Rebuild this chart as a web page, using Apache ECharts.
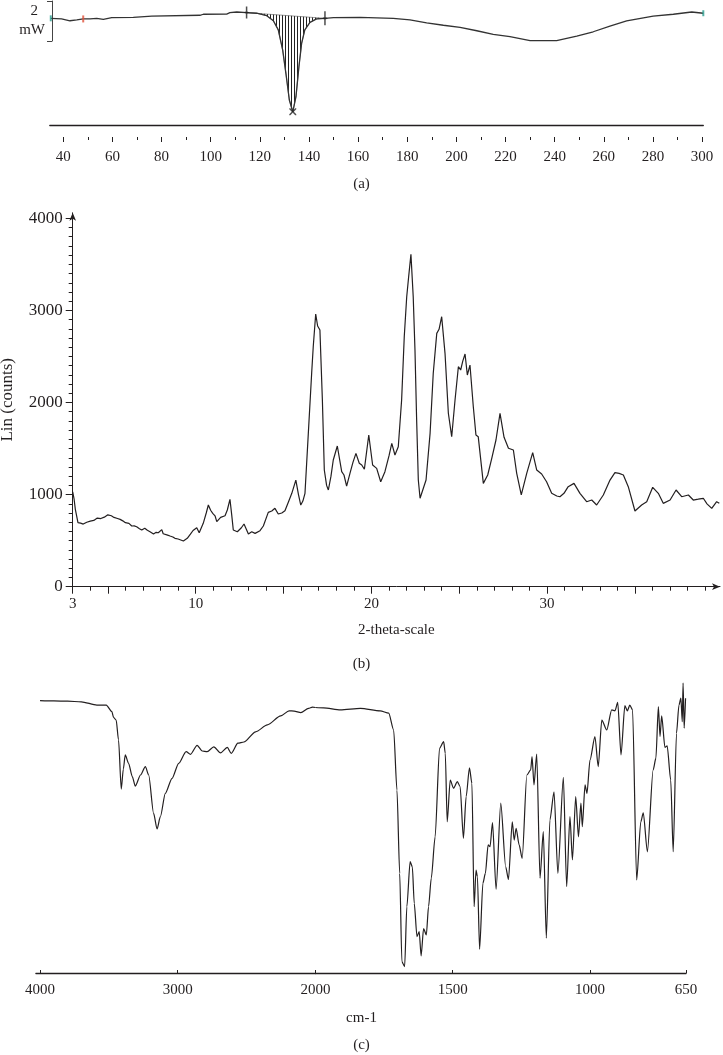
<!DOCTYPE html>
<html><head><meta charset="utf-8">
<script src="https://cdn.jsdelivr.net/npm/echarts@6/dist/echarts.min.js"></script>
<style>html,body{margin:0;padding:0;background:#fff;}#c{width:723px;height:1055px;}</style>
</head><body><div id="c"></div>
<script>
// ---------- (a) DSC ----------
const dscTemp = [34.9,39.3,42.7,45.5,48.1,50.9,53.6,56.3,59.7,68.5,76,95.6,97,106.5,107.8,110.6,114.6,118.7,122.8,125.5,127.5,129.3,130.6,132,133.4,134.7,135.9,137,138.3,140.4,143.1,146.5,150,160.8,174.3,181.1,187.9,194.7,201.5,208.3,215,221.8,230,240.8,249,255.7,262.5,269.3,280.1,288.3,295.8,300.5];
const dscHeat = [-0.06,-0.09,-0.18,-0.14,-0.09,-0.09,-0.06,-0.11,-0.03,-0.01,0.05,0.09,0.14,0.15,0.22,0.25,0.22,0.19,0.07,-0.18,-0.63,-1.62,-2.76,-4.07,-4.65,-3.91,-2.44,-1.29,-0.63,-0.26,-0.09,-0.06,-0.03,-0.01,-0.06,-0.14,-0.28,-0.40,-0.50,-0.67,-0.85,-0.96,-1.16,-1.16,-0.93,-0.72,-0.44,-0.19,0.05,0.14,0.25,0.19];
const dscTickMajor = [40,60,80,100,120,140,160,180,200,220,240,260,280,300];
const dscTickMinor = [50,70,90,110,130,150,170,190,210,230,250,270,290];
const dscIntegStart = 114.6, dscIntegEnd = 146.5, dscPeakT = 133.4;
const dscStartMarkT = 34.9, dscRedMarkT = 48.1, dscEndMarkT = 300.5;
const scaleBar = [0, 2]; // 2 mW

// ---------- (b) XRD ----------
const xrdTheta = [3.0,3.08,3.15,3.3,3.45,3.6,3.8,4.0,4.2,4.4,4.6,4.8,5.0,5.2,5.35,5.55,5.7,5.85,6.0,6.2,6.36,6.5,6.64,6.8,6.93,7.1,7.25,7.4,7.6,7.75,7.87,8.07,8.15,8.25,8.4,8.54,8.7,8.82,9.0,9.11,9.3,9.52,9.7,9.85,10.06,10.2,10.43,10.6,10.72,10.85,10.97,11.1,11.2,11.42,11.67,11.8,11.95,12.05,12.14,12.37,12.6,12.75,13.0,13.19,13.38,13.66,13.85,14.13,14.33,14.51,14.7,14.9,15.08,15.3,15.47,15.7,15.85,15.98,16.1,16.22,16.41,16.6,16.69,16.83,16.94,17.07,17.21,17.32,17.45,17.55,17.7,17.83,18.06,18.31,18.44,18.59,18.78,18.95,19.12,19.31,19.45,19.6,19.85,20.07,20.3,20.53,20.77,21.0,21.16,21.34,21.53,21.72,21.87,22.01,22.12,22.25,22.38,22.48,22.57,22.67,22.77,22.86,23.11,23.34,23.52,23.72,23.85,24.0,24.19,24.38,24.57,24.76,24.95,25.08,25.2,25.33,25.46,25.61,25.8,25.95,26.08,26.37,26.62,26.85,27.09,27.32,27.55,27.8,28.08,28.27,28.53,28.84,29.18,29.41,29.69,29.97,30.26,30.55,30.73,30.96,31.2,31.53,31.87,32.25,32.54,32.82,33.2,33.58,33.86,34.1,34.34,34.62,35.0,35.38,35.67,36.01,36.33,36.61,37.0,37.34,37.66,38.04,38.32,38.6,38.89,39.1,39.37,39.65,39.8];
const xrdCounts = [1030,950,840,695,690,680,700,712,720,745,740,755,780,770,752,740,731,715,695,688,659,660,651,630,615,634,612,597,572,590,586,620,575,561,560,550,540,525,518,514,496,525,570,610,641,586,688,800,887,830,797,770,706,753,771,833,949,780,615,597,640,681,572,597,579,608,659,807,822,851,789,800,825,930,1014,1158,1000,887,930,1014,1665,2317,2606,2961,2831,2787,2027,1267,1100,1050,1200,1376,1528,1249,1213,1093,1231,1350,1448,1340,1321,1275,1647,1321,1285,1140,1249,1420,1557,1430,1520,2027,2714,3149,3366,3609,3149,2570,1846,1158,960,941,1158,1665,2317,2751,2795,2932,2534,1883,1629,2027,2389,2353,2450,2527,2299,2407,1954,1647,1629,1122,1213,1394,1593,1883,1622,1503,1484,1231,996,1231,1455,1267,1224,1140,1014,985,977,1014,1086,1122,1014,923,941,887,996,1158,1238,1230,1213,1086,822,887,923,1079,1014,905,941,1050,977,996,941,950,960,900,851,923,905];
const xrdXLabels = [3,10,20,30];
const xrdXMajor = [3,5,10,15,20,25,30,35];
const xrdXMinor = [4,6,7,8,9,11,12,13,14,16,17,18,19,21,22,23,24,26,27,28,29,31,32,33,34,36,37,38,39];
const xrdYLabels = [0,1000,2000,3000,4000];
const xrdYMinor = [100,200,300,400,500,600,700,800,900,1100,1200,1300,1400,1500,1600,1700,1800,1900,2100,2200,2300,2400,2500,2600,2700,2800,2900,3100,3200,3300,3400,3500,3600,3700,3800,3900];

// ---------- (c) IR ----------
const irWave = [4000,3900,3800,3700,3587,3519,3478,3466,3447,3430,3410,3395,3381,3357,3330,3308,3270,3235,3211,3175,3150,3126,3090,3041,2993,2939,2907,2859,2822,2786,2738,2689,2640,2611,2563,2519,2434,2349,2252,2191,2155,2106,2050,2021,2000,1970,1909,1836,1764,1733,1715,1703,1693,1685,1675,1667,1655,1647,1640,1630,1622,1615,1606,1596,1588,1578,1564,1548,1533,1527,1520,1509,1497,1483,1473,1461,1451,1439,1430,1422,1415,1410,1402,1390,1381,1371,1364,1355,1342,1325,1307,1297,1283,1276,1269,1258,1247,1230,1216,1211,1204,1194,1182,1170,1159,1146,1131,1117,1097,1085,1073,1064,1052,1042,1033,1028,1018,1011,1000,982,970,957,939,921,909,899,887,873,864,855,845,830,815,806,791,770,760,751,745,739,727,719,706,697,685,676,669,664,661,657,652];
const irTrans = [90.8,90.7,90.6,90.4,89.3,89.3,87.1,85.2,84.3,77.7,61.3,68,72.7,69.9,65.5,62.3,66,68.8,66,53.2,48,52.1,59.9,64.9,69.9,73.8,72.9,75.9,74,73.8,75.4,73.4,75.2,73.2,76.6,77,80.4,82.7,85.7,87.4,87.3,86.8,88.2,88.6,88.5,88.4,87.7,88.2,87.4,86.6,81,61,33.2,3.8,2.1,22.1,37.1,35.4,23.2,12.1,13.8,5.7,14.8,12.7,22.1,31.6,45.4,74.9,77.1,73.2,50.4,64.3,61.6,63.8,62.1,44.9,58.8,68.4,63.2,22.1,34.3,32.1,7.9,29.9,33.2,42.7,42.1,50.1,27.9,56.6,35.4,31.2,50.4,44.3,48.2,42.7,38.2,66,67.7,72.1,62.7,73,31.6,47.1,11.6,51,60.4,33.2,65.2,28.8,52.1,37.7,58.8,45.4,56.6,48.8,62.7,59.9,71,78.8,68.8,84.3,81,87.7,87.4,90.2,72.7,89.1,87.4,89.3,87.7,31,50.4,53.4,40.4,67.7,71.6,88.8,78.8,85.7,75.2,75.7,64.3,40.4,79.9,89.3,91.6,83.8,96.6,81.6,91.6];
const irLabelsHigh = [4000,3000,2000];
const irLabelsLow = [1500,1000,650];

// ---------- build ----------
const INK = '#231f20';
const FONT = "'Liberation Serif', 'DejaVu Serif', serif";
const zip = (a,b) => a.map((v,i)=>[v,b[i]]);
const dscData = zip(dscTemp, dscHeat);
const hatchPts = dscData.filter(p => p[0] >= dscIntegStart && p[0] <= dscIntegEnd);
const heatAt = t => dscHeat[dscTemp.indexOf(t)];
const irData = zip(irWave, irTrans);
const irHigh = irData.filter(p => p[0] >= 2000);
const irLow = irData.filter(p => p[0] <= 2000);

const pc = document.createElement('canvas');
pc.width = 3; pc.height = 3;
const pctx = pc.getContext('2d');
pctx.fillStyle = '#222';
pctx.fillRect(0,0,1,3);
const hatchPattern = {image: pc, repeat: 'repeat'};

const lbl = (size) => ({color: INK, fontFamily: FONT, fontSize: size});
const plain = v => String(v);
const hidden = {show:false};

const limitPath = 'path://M4,0 L6,0 L6,5 L9,6 L6,7 L6,12 L4,12 L4,7 L1,6 L4,5 Z';
const xPath = 'path://M0,0 L1.5,0 L5,3.5 L8.5,0 L10,0 L10,1.5 L6.5,5 L10,8.5 L10,10 L8.5,10 L5,6.5 L1.5,10 L0,10 L0,8.5 L3.5,5 L0,1.5 Z';

const G = o => Object.assign({outerBoundsMode:'none', containLabel:false}, o);

const chart = echarts.init(document.getElementById('c'), null, {renderer:'canvas'});
chart.setOption({
  animation: false,
  backgroundColor: '#fff',
  title: [
    {text:'(a)', left:'center', top:172, textStyle:{...lbl(15), fontWeight:'normal'}},
    {text:'(b)', left:'center', top:652, textStyle:{...lbl(15), fontWeight:'normal'}},
    {text:'cm-1', left:'center', top:1006, textStyle:{...lbl(15), fontWeight:'normal'}},
    {text:'(c)', left:'center', top:1033, textStyle:{...lbl(15), fontWeight:'normal'}}
  ],
  grid: [
    G({left:49.8, top:0, width:653.5, height:125}),
    G({left:52, top:1, width:1, height:40}),
    G({left:72.7, top:212.8, width:647.3, height:373.9}),
    G({left:35.9, top:673, width:279.5, height:300}),
    G({left:315.4, top:673, width:370.7, height:300})
  ],
  xAxis: [
    {gridIndex:0, type:'value', position:'bottom', min:34.5, max:300.5, axisLine:{show:true, onZero:false, lineStyle:{color:INK, width:1.3}}, axisTick:hidden, axisLabel:hidden, splitLine:hidden},
    {gridIndex:0, type:'value', position:'bottom', min:34.5, max:300.5, offset:12, axisLine:{show:false, onZero:false}, axisTick:{show:true, customValues:dscTickMajor, length:5, lineStyle:{color:INK}}, axisLabel:{show:true, customValues:dscTickMajor, margin:13, formatter:plain, ...lbl(15)}, splitLine:hidden},
    {gridIndex:0, type:'value', position:'bottom', min:34.5, max:300.5, offset:12, axisLine:{show:false, onZero:false}, axisTick:{show:true, customValues:dscTickMinor, length:3, lineStyle:{color:INK}}, axisLabel:hidden, splitLine:hidden},
    {gridIndex:1, type:'value', show:false},
    {gridIndex:2, type:'value', position:'bottom', min:3, max:39.84, axisLine:{show:true, onZero:false, symbol:['none','arrow'], symbolSize:[5,8], lineStyle:{color:INK, width:1}}, axisTick:{show:true, customValues:xrdXMajor, length:7, lineStyle:{color:INK}}, axisLabel:{show:true, customValues:xrdXLabels, margin:10, formatter:plain, ...lbl(15)}, splitLine:hidden,
      name:'2-theta-scale', nameLocation:'middle', nameGap:36, nameTextStyle:lbl(15)},
    {gridIndex:2, type:'value', position:'bottom', min:3, max:39.84, axisLine:{show:false, onZero:false}, axisTick:{show:true, customValues:xrdXMinor, length:4, lineStyle:{color:INK}}, axisLabel:hidden, splitLine:hidden},
    {gridIndex:3, type:'value', position:'bottom', min:2000, max:4030, inverse:true, axisLine:{show:true, onZero:false, lineStyle:{color:INK, width:1.3}}, axisTick:{show:true, inside:true, customValues:irLabelsHigh, length:3, lineStyle:{color:INK}}, axisLabel:{show:true, customValues:irLabelsHigh, margin:10, formatter:plain, ...lbl(15)}, splitLine:hidden},
    {gridIndex:4, type:'value', position:'bottom', min:650, max:2000, inverse:true, axisLine:{show:true, onZero:false, lineStyle:{color:INK, width:1.3}}, axisTick:{show:true, inside:true, customValues:irLabelsLow, length:3, lineStyle:{color:INK}}, axisLabel:{show:true, customValues:irLabelsLow, margin:10, formatter:plain, ...lbl(15)}, splitLine:hidden}
  ],
  yAxis: [
    {gridIndex:0, type:'value', min:-5.3, max:0.84, show:false},
    {gridIndex:1, type:'value', position:'left', min:scaleBar[0], max:scaleBar[1], axisLine:{show:true, onZero:false, lineStyle:{color:'#444', width:1}}, axisTick:{show:true, customValues:scaleBar, length:5, lineStyle:{color:'#444'}}, axisLabel:hidden, splitLine:hidden,
      name:'{t|2}\n{u|mW}', nameLocation:'middle', nameRotate:0, nameGap:7,
      nameTextStyle:{align:'right', verticalAlign:'middle', ...lbl(15), lineHeight:19, rich:{t:{...lbl(15), lineHeight:19, padding:[0,7,0,0]}, u:{...lbl(15), lineHeight:19}}}},
    {gridIndex:2, type:'value', position:'left', min:0, max:4060, axisLine:{show:true, onZero:false, symbol:['none','arrow'], symbolSize:[5,8], lineStyle:{color:INK, width:1}}, axisTick:{show:true, customValues:xrdYLabels, length:7, lineStyle:{color:INK}}, axisLabel:{show:true, customValues:xrdYLabels, margin:10, formatter:plain, ...lbl(17)}, splitLine:hidden,
      name:'Lin (counts)', nameLocation:'middle', nameGap:57, nameTextStyle:lbl(17)},
    {gridIndex:2, type:'value', position:'left', offset:0, min:0, max:4060, axisLine:{show:false, onZero:false}, axisTick:{show:true, customValues:xrdYMinor, length:4, lineStyle:{color:INK}}, axisLabel:hidden, splitLine:hidden},
    {gridIndex:3, type:'value', min:0, max:100, show:false},
    {gridIndex:4, type:'value', min:0, max:100, show:false}
  ],
  series: [
    {type:'custom', xAxisIndex:0, yAxisIndex:0, data:[[dscIntegStart, 0]], silent:true, z:1,
      renderItem: (params, api) => ({type:'polygon', shape:{points: hatchPts.map(p => api.coord(p))}, style:{fill: hatchPattern, stroke:'#555', lineWidth:0.6}})},
    {type:'line', xAxisIndex:0, yAxisIndex:0, data:dscData, symbol:'none', lineStyle:{color:'#333', width:1.3}, z:3},
    {type:'scatter', xAxisIndex:0, yAxisIndex:0, z:4, silent:true,
      data:[
        {value:[dscStartMarkT, heatAt(dscStartMarkT)], symbol:'rect', symbolSize:[2,6], itemStyle:{color:'#2a9d8f'}},
        {value:[dscEndMarkT, heatAt(dscEndMarkT)], symbol:'rect', symbolSize:[2,6], itemStyle:{color:'#2a9d8f'}},
        {value:[dscRedMarkT, heatAt(dscRedMarkT)], symbol:'rect', symbolSize:[2,7], itemStyle:{color:'#e0513a'}},
        {value:[dscIntegStart, heatAt(dscIntegStart)], symbol:limitPath, symbolSize:[6,12], itemStyle:{color:'#222'}},
        {value:[dscIntegEnd, heatAt(dscIntegEnd)], symbol:limitPath, symbolSize:[6,14], itemStyle:{color:'#222'}},
        {value:[dscPeakT, heatAt(dscPeakT)], symbol:xPath, symbolSize:7, itemStyle:{color:'#222'}}
      ]},
    {type:'line', xAxisIndex:4, yAxisIndex:2, data:zip(xrdTheta, xrdCounts), symbol:'none', lineStyle:{color:INK, width:1.2}},
    {type:'line', xAxisIndex:6, yAxisIndex:4, data:irHigh, symbol:'none', smooth:0.25, smoothMonotone:'x', lineStyle:{color:INK, width:1.2}},
    {type:'line', xAxisIndex:7, yAxisIndex:5, data:irLow, symbol:'none', smooth:0.25, smoothMonotone:'x', lineStyle:{color:INK, width:1.2}}
  ]
});
</script></body></html>
